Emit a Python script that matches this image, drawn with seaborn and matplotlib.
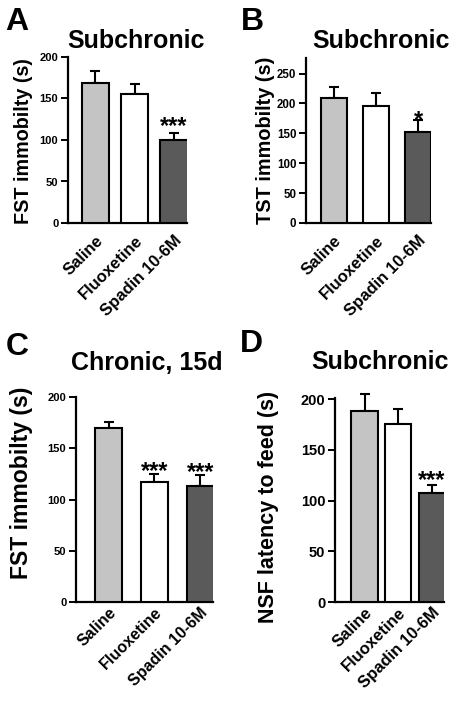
import matplotlib
matplotlib.use("Agg")
import matplotlib.pyplot as plt
import seaborn as sns
import pandas as pd

# ---------------- data ----------------
groups = ["Saline", "Fluoxetine", "Spadin 10-6M"]
bar_colors = ["#c4c4c4", "#ffffff", "#5a5a5a"]

a_mean = [169, 156, 100]
a_sem = [14, 12, 9]
a_sig = ["", "", "***"]

b_mean = [209, 195, 152]
b_sem = [19, 23, 20]
b_sig = ["", "", "*"]

c_mean = [170, 117, 113]
c_sem = [6, 8, 11]
c_sig = ["", "***", "***"]

d_mean = [188, 175, 107]
d_sem = [17, 15, 8]
d_sig = ["", "", "***"]

a_yticks = [0, 50, 100, 150, 200]
b_yticks = [0, 50, 100, 150, 200, 250]
c_yticks = [0, 50, 100, 150, 200]
d_yticks = [0, 50, 100, 150, 200]

# ---------------- style ----------------
sns.set_style("ticks")
plt.rcParams["font.family"] = ["Liberation Sans", "DejaVu Sans"]
plt.rcParams["font.weight"] = "bold"
plt.rcParams["axes.labelweight"] = "bold"
plt.rcParams["text.color"] = "black"
plt.rcParams["axes.labelcolor"] = "black"
plt.rcParams["xtick.color"] = "black"
plt.rcParams["ytick.color"] = "black"

W, H = 460, 709
fig = plt.figure(figsize=(W / 100, H / 100), dpi=100)


def rect(l, r, t, b):
    return [l / W, 1 - b / H, (r - l) / W, (b - t) / H]


panels = [
    dict(mean=a_mean, sem=a_sem, sig=a_sig, yticks=a_yticks, ylim=(0, 200),
         box=(68, 187, 57, 223), xlim=(-0.70, 2.33), width=0.69,
         ylabel="FST immobilty (s)", ylsize=14.2, ylpos=33, ylcy=141,
         ticksize=8, title="Subchronic", tpos=(136, 41),
         letter="A", lpos=(17, 22), staroff=0, xsize=12, xpad=7),
    dict(mean=b_mean, sem=b_sem, sig=b_sig, yticks=b_yticks, ylim=(0, 276),
         box=(306, 431, 58, 223), xlim=(-0.66, 2.30), width=0.62,
         ylabel="TST immobilty (s)", ylsize=14.3, ylpos=275, ylcy=140,
         ticksize=8.3, title="Subchronic", tpos=(381, 41),
         letter="B", lpos=(252, 22), staroff=-5, xsize=12, xpad=7),
    dict(mean=c_mean, sem=c_sem, sig=c_sig, yticks=c_yticks, ylim=(0, 200),
         box=(76, 213, 397, 602), xlim=(-0.71, 2.28), width=0.59,
         ylabel="FST immobilty (s)", ylsize=16.6, ylpos=33, ylcy=483,
         ticksize=8, title="Chronic, 15d", tpos=(147, 363),
         letter="C", lpos=(17, 347), staroff=-3, xsize=11.5, xpad=2),
    dict(mean=d_mean, sem=d_sem, sig=d_sig, yticks=d_yticks, ylim=(0, 201),
         box=(335, 444, 398, 602), xlim=(-0.88, 2.37), width=0.78,
         ylabel="NSF latency to feed (s)", ylsize=15.5, ylpos=279, ylcy=507,
         ticksize=10.5, title="Subchronic", tpos=(380, 362),
         letter="D", lpos=(251, 344), staroff=-1, xsize=12, xpad=2),
]

for p in panels:
    l, r, t, b = p["box"]
    ax = fig.add_axes(rect(l, r, t, b))
    df = pd.DataFrame({"group": groups, "value": p["mean"]})
    sns.barplot(data=df, x="group", y="value", hue="group", palette=bar_colors,
                order=groups, hue_order=groups, legend=False, errorbar=None,
                width=p["width"], edgecolor="black", linewidth=1.5, ax=ax,
                zorder=3)
    ax.errorbar(range(len(groups)), p["mean"],
                yerr=[[0] * len(groups), p["sem"]], fmt="none",
                ecolor="black", elinewidth=1.5, capsize=3.6, capthick=1.5,
                zorder=2, clip_on=False)
    for i, s in enumerate(p["sig"]):
        if s:
            ax.annotate(s, xy=(i, p["mean"][i] + p["sem"][i]),
                        xytext=(0, p["staroff"]), textcoords="offset points",
                        ha="center", va="baseline", fontsize=17,
                        fontweight="bold", annotation_clip=False)
    ax.set_xlim(*p["xlim"])
    ax.set_ylim(*p["ylim"])
    ax.set_yticks(p["yticks"])
    ax.set_yticklabels([str(v) for v in p["yticks"]], fontsize=p["ticksize"],
                       fontweight="bold")
    ax.set_xticks(range(len(groups)))
    ax.set_xticklabels(groups, rotation=45, ha="right", va="top",
                       rotation_mode="anchor", fontsize=p["xsize"],
                       fontweight="bold")
    ax.tick_params(axis="y", direction="out", length=5, width=1.4, pad=2)
    ax.tick_params(axis="x", length=0, pad=p["xpad"])
    ax.set_xlabel("")
    ax.set_ylabel(p["ylabel"], fontsize=p["ylsize"], fontweight="bold")
    ax.yaxis.set_label_coords((p["ylpos"] - l) / (r - l),
                              (b - p["ylcy"]) / (b - t))
    for side in ["top", "right"]:
        ax.spines[side].set_visible(False)
    for side in ["left", "bottom"]:
        ax.spines[side].set_linewidth(1.6)
        ax.spines[side].set_color("black")
    ax.set_facecolor("white")
    fig.text(p["tpos"][0] / W, 1 - p["tpos"][1] / H, p["title"],
             ha="center", va="center", fontsize=18, fontweight="bold")
    fig.text(p["lpos"][0] / W, 1 - p["lpos"][1] / H, p["letter"],
             ha="center", va="center", fontsize=23, fontweight="bold")

fig.savefig("out.png", dpi=100, facecolor="white")
